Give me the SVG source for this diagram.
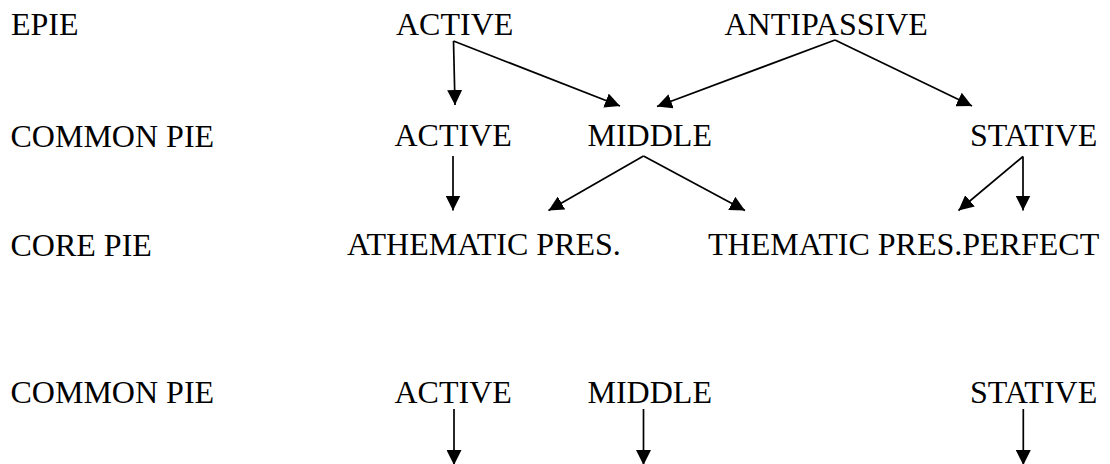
<svg xmlns="http://www.w3.org/2000/svg" width="1110" height="464" viewBox="0 0 1110 464">
<style>
text{font-family:"Liberation Serif","Times New Roman",serif;font-size:32px;fill:#000}
.c{stroke:#000;stroke-width:1.7;fill:none;marker-end:url(#ah)}
</style>
<defs>
<marker id="ah" viewBox="0 0 15 15" markerUnits="userSpaceOnUse" markerWidth="15" markerHeight="15" refX="15" refY="7.5" orient="auto">
<path d="M0,0 L15,7.5 L0,15 z" fill="#000"/>
</marker>
</defs>
<rect width="1110" height="464" fill="#fff"/>
<g id="labels">
<text x="11" y="35">EPIE</text>
<text x="10.5" y="147">COMMON PIE</text>
<text x="10.5" y="256">CORE PIE</text>
<text x="10.5" y="403">COMMON PIE</text>
</g>
<g id="epie-active"><text x="396" y="35">ACTIVE</text></g>
<g id="epie-antipassive"><text x="724.5" y="35">ANTIPASSIVE</text></g>
<g id="cpie-active"><text x="394.5" y="146">ACTIVE</text></g>
<g id="cpie-middle"><text x="587.5" y="146">MIDDLE</text></g>
<g id="cpie-stative"><text x="970" y="146">STATIVE</text></g>
<g id="core-athematic"><text x="347" y="255">ATHEMATIC PRES.</text></g>
<g id="core-thematic"><text x="708" y="255">THEMATIC PRES.PERFECT</text></g>
<g id="cpie2-active"><text x="394.5" y="403">ACTIVE</text></g>
<g id="cpie2-middle"><text x="587.5" y="403">MIDDLE</text></g>
<g id="cpie2-stative"><text x="970" y="403">STATIVE</text></g>
<g id="connectors">
<line class="c" x1="453.5" y1="41" x2="455" y2="105"/>
<line class="c" x1="453.5" y1="41" x2="620" y2="106"/>
<line class="c" x1="835" y1="40" x2="657" y2="106.5"/>
<line class="c" x1="835" y1="40" x2="972" y2="106"/>
<line class="c" x1="453" y1="156" x2="453" y2="210.5"/>
<line class="c" x1="643.5" y1="156" x2="548.5" y2="210.5"/>
<line class="c" x1="643.5" y1="156" x2="745" y2="210.5"/>
<line class="c" x1="1023" y1="156.5" x2="958.5" y2="210.5"/>
<line class="c" x1="1023" y1="156.5" x2="1023" y2="210.5"/>
<line class="c" x1="454" y1="409" x2="454" y2="465"/>
<line class="c" x1="643.5" y1="409" x2="643.5" y2="465"/>
<line class="c" x1="1023.3" y1="409" x2="1023.3" y2="465"/>
</g>
</svg>
